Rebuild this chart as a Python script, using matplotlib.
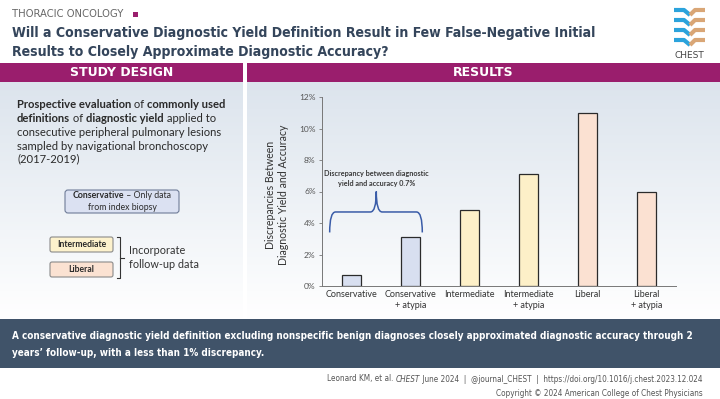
import matplotlib.pyplot as plt
import numpy as np
from matplotlib.colors import LinearSegmentedColormap
from matplotlib.patches import FancyBboxPatch, Rectangle, PathPatch
from matplotlib.path import Path

# chart data
categories = ['Conservative', 'Conservative\n+ atypia', 'Intermediate',
              'Intermediate\n+ atypia', 'Liberal', 'Liberal\n+ atypia']
discrepancy = [0.7, 3.1, 4.8, 7.1, 11.0, 6.0]
bar_colors = ['#d8dff0', '#d8dff0', '#fdf0c8', '#fdf0c8', '#fbe1d2', '#fbe1d2']
y_ticks = [0, 2, 4, 6, 8, 10, 12]
y_tick_labels = ['0%', '2%', '4%', '6%', '8%', '10%', '12%']

# brace over the two conservative bars (x in category units, y in %)
brace_x = [-0.37, 0.42, 1.2]
brace_y = [3.4, 4.7, 6.0]
brace_note = 'Discrepancy between diagnostic\nyield and accuracy 0.7%'

MAGENTA = '#9a1e6d'
SLATE = '#34455b'
BAND = '#405369'
BODY = 'Lato'
HEAD = 'DejaVu Sans'

fig = plt.figure(figsize=(7.2, 3.99), dpi=100)
bg = fig.add_axes([0, 0, 1, 1])
renderer = fig.canvas.get_renderer()


def text_w(txt, **kw):
    a = bg.text(0, 0, '|' + txt + '|', **kw)
    b = bg.text(0, 0, '||', **kw)
    w = a.get_window_extent(renderer).width - b.get_window_extent(renderer).width
    a.remove()
    b.remove()
    return w


def put_runs(x, y, runs, size, color='#2a2a2a', family=BODY, ha='left', **extra):
    # runs: (text, weight, style)
    widths = [text_w(t, fontsize=size, fontweight=w, fontstyle=s, family=family, **extra)
              for t, w, s in runs]
    total = sum(widths)
    if ha == 'center':
        x -= total / 2
    elif ha == 'right':
        x -= total
    for (t, w, s), wd in zip(runs, widths):
        bg.text(x, y, t, fontsize=size, fontweight=w, fontstyle=s, family=family,
                color=color, va='center', ha='left', **extra)
        x += wd


# background panels
fade = LinearSegmentedColormap.from_list('fade', ['#dce4ed', '#ffffff'])
grad = np.linspace(0, 1, 256).reshape(-1, 1)
for x0, x1 in [(0, 243), (247, 720)]:
    bg.imshow(grad, extent=(x0, x1, 318, 82), cmap=fade, aspect='auto', zorder=0)
bg.set_xlim(0, 720)
bg.set_ylim(399, 0)
bg.axis('off')

bg.add_patch(Rectangle((0, 63), 243, 19, color=MAGENTA, lw=0))
bg.add_patch(Rectangle((247, 63), 473, 19, color=MAGENTA, lw=0))
bg.add_patch(Rectangle((0, 319), 720, 49, color=BAND, lw=0))

# header
bg.text(12, 14, 'THORACIC ONCOLOGY', fontsize=8, color='#666666', family=HEAD,
        va='center', fontstretch='condensed')
bg.add_patch(Rectangle((133, 12), 5, 5, color=MAGENTA, lw=0))
bg.text(12, 33, 'Will a Conservative Diagnostic Yield Definition Result in Few False-Negative Initial',
        fontsize=10.1, weight='bold', color=SLATE, family=HEAD, va='center', fontstretch='condensed')
bg.text(12, 52, 'Results to Closely Approximate Diagnostic Accuracy?',
        fontsize=10.1, weight='bold', color=SLATE, family=HEAD, va='center', fontstretch='condensed')
bg.text(122, 73, 'STUDY DESIGN', fontsize=9, weight='bold', color='white', family=HEAD,
        ha='center', va='center')
bg.text(483, 73, 'RESULTS', fontsize=9, weight='bold', color='white', family=HEAD,
        ha='center', va='center')

# CHEST logo
for i in range(4):
    y = 10 + i * 10
    bg.plot([674, 684, 690], [y, y, y + 5], color='#2ba3dc', lw=3, solid_capstyle='butt')
    bg.plot([690, 695, 705], [y + 5, y, y], color='#d9a676', lw=3, solid_capstyle='butt')
bg.text(689, 55, 'CHEST', fontsize=6.5, color='#444444', family=HEAD, ha='center', va='center')

# study design panel
put_runs(17, 104, [('Prospective evaluation', 'bold', 'normal'), (' of ', 'normal', 'normal'),
                   ('commonly used', 'bold', 'normal')], 8.1)
put_runs(17, 118, [('definitions', 'bold', 'normal'), (' of ', 'normal', 'normal'),
                   ('diagnostic yield', 'bold', 'normal'), (' applied to', 'normal', 'normal')], 8.1)
for yy, line in [(132, 'consecutive peripheral pulmonary lesions'),
                 (146, 'sampled by navigational bronchoscopy'), (159, '(2017-2019)')]:
    put_runs(17, yy, [(line, 'normal', 'normal')], 8.1)

bg.add_patch(FancyBboxPatch((65, 190), 114, 23, boxstyle='round,pad=0,rounding_size=3',
                            fc='#dbe1f2', ec='#6f7c98', lw=0.8))
put_runs(122, 196, [('Conservative', 'bold', 'normal'), (' – Only data', 'normal', 'normal')], 6.3,
         ha='center')
put_runs(122, 207, [('from index biopsy', 'normal', 'normal')], 6.3, ha='center')

for y0, fc, lab in [(237, '#fdf2cd', 'Intermediate'), (262, '#fbe2d2', 'Liberal')]:
    bg.add_patch(FancyBboxPatch((50, y0), 63, 15, boxstyle='round,pad=0,rounding_size=2',
                                fc=fc, ec='#8a8a8a', lw=0.8))
    put_runs(81.5, y0 + 7.5, [(lab, 'bold', 'normal')], 6.2, ha='center')

bg.plot([117, 120, 120, 117], [237, 237, 278, 278], color='#333333', lw=0.8)
bg.plot([120, 124], [257.5, 257.5], color='#333333', lw=0.8)
put_runs(129, 250, [('Incorporate', 'normal', 'normal')], 7.8, color='#333333')
put_runs(129, 264, [('follow-up data', 'normal', 'normal')], 7.8, color='#333333')

# conclusion band
bg.text(12, 336, 'A conservative diagnostic yield definition excluding nonspecific benign diagnoses '
        'closely approximated diagnostic accuracy through 2', fontsize=7.1, weight='bold',
        color='white', family=HEAD, va='center', fontstretch='condensed')
bg.text(12, 353, 'years’ follow-up, with a less than 1% discrepancy.', fontsize=7.1, weight='bold',
        color='white', family=HEAD, va='center', fontstretch='condensed')

# footer
put_runs(703, 379, [('Leonard KM, et al. ', 'normal', 'normal'), ('CHEST', 'normal', 'italic'),
                    (' June 2024  |  @journal_CHEST  |  https://doi.org/10.1016/j.chest.2023.12.024',
                     'normal', 'normal')], 5.9, color='#555555', family=HEAD, ha='right',
         fontstretch='condensed')
put_runs(703, 393, [('Copyright © 2024 American College of Chest Physicians', 'normal', 'normal')],
         5.9, color='#555555', family=HEAD, ha='right', fontstretch='condensed')

# results chart
ax = fig.add_axes([322 / 720, 1 - 286 / 399, 354 / 720, 189 / 399])
ax.patch.set_alpha(0)
x = np.arange(len(categories))
ax.bar(x, discrepancy, width=0.31, color=bar_colors, edgecolor='#2b2b2b', linewidth=0.9)
ax.set_xlim(-0.5, 5.5)
ax.set_ylim(0, 12)
ax.set_yticks(y_ticks, y_tick_labels)
ax.set_xticks(x, categories)
ax.tick_params(axis='x', length=0, pad=3, labelsize=6.5, labelcolor='#333333')
ax.tick_params(axis='y', length=2.5, width=0.6, pad=2, labelsize=6, labelcolor='#555555',
               color='#777777')
for lab in ax.get_xticklabels() + ax.get_yticklabels():
    lab.set_family(BODY)
for s in ['top', 'right']:
    ax.spines[s].set_visible(False)
for s in ['left', 'bottom']:
    ax.spines[s].set_color('#777777')
    ax.spines[s].set_linewidth(0.7)
ax.set_ylabel('Discrepancies Between\nDiagnostic Yield and Accuracy', fontsize=7.6,
              color='#333333', family=BODY)
ax.yaxis.set_label_coords(-0.093, 0.48)

x0, xc, x1 = brace_x
yb, yh, yp = brace_y
verts = [(x0, yb), (x0, yh), (x0 + 0.1, yh), (xc - 0.1, yh), (xc, yh), (xc, yp),
         (xc, yh), (xc + 0.1, yh), (x1 - 0.1, yh), (x1, yh), (x1, yb)]
codes = [Path.MOVETO, Path.CURVE3, Path.CURVE3, Path.LINETO, Path.CURVE3, Path.CURVE3,
         Path.CURVE3, Path.CURVE3, Path.LINETO, Path.CURVE3, Path.CURVE3]
ax.add_patch(PathPatch(Path(verts, codes), fc='none', ec='#3a5ca8', lw=1.1))
ax.text(xc, 6.85, brace_note, ha='center', va='center', fontsize=5.2, weight='bold',
        color='#3a3a3a', family=BODY, linespacing=1.5)

fig.savefig('out.png', dpi=100)
